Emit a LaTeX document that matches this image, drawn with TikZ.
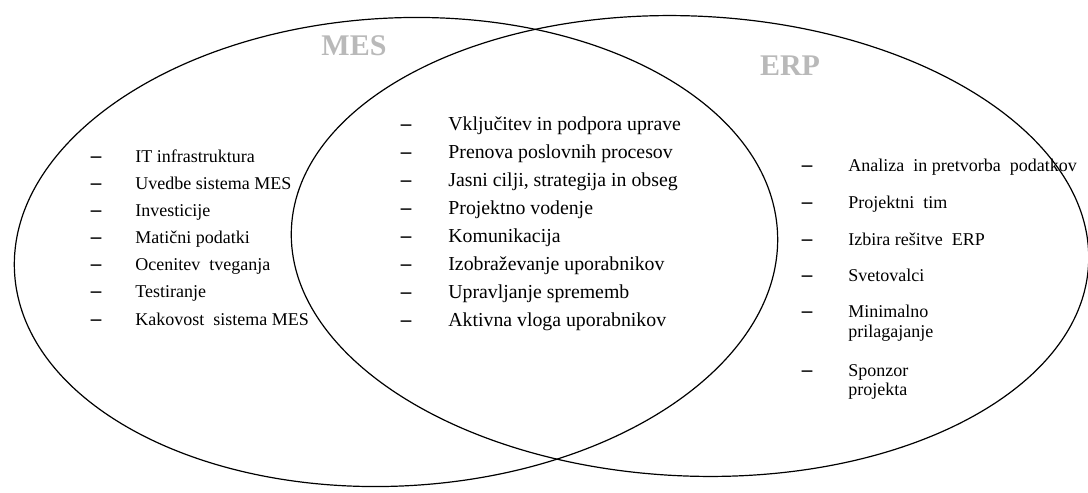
\documentclass[tikz,border=0pt]{standalone}
\usepackage{fontspec}
\setmainfont{Liberation Serif}
\definecolor{labelgray}{RGB}{185,185,185}
\tikzset{
  side/.style={anchor=base west,font=\fontsize{9}{10}\selectfont},
  core/.style={anchor=base west,font=\fontsize{9.9}{11}\selectfont},
  bullet/.style={anchor=base,font=\fontsize{10.5}{11}\selectfont\bfseries},
  setname/.style={font=\fontsize{15}{16}\selectfont\bfseries,text=labelgray}
}
\begin{document}
\begin{tikzpicture}[x=0.5pt,y=-0.5pt,every node/.style={inner sep=0pt}]
    \useasboundingbox (0,0) rectangle (1088,493);
    % sets
    \draw[line width=0.6pt,rotate around={3:(396,252)}] (396,252) ellipse [x radius=382, y radius=234];
    \draw[line width=0.6pt,rotate around={-2.5:(690,246)}] (690,246) ellipse [x radius=399, y radius=230];
    \node[setname] (mes) at (354,46) {MES};
    \node[setname] (erp) at (790,66) {ERP};
    % MES only
    \node[bullet] (m1d) at (96,162) {--}; \node[side] (m1) at (135,162) {IT infrastruktura};
    \node[bullet] (m2d) at (96,189) {--}; \node[side] (m2) at (135,189) {Uvedbe sistema MES};
    \node[bullet] (m3d) at (96,216) {--}; \node[side] (m3) at (135,216) {Investicije};
    \node[bullet] (m4d) at (96,243) {--}; \node[side] (m4) at (135,243) {Matični podatki};
    \node[bullet] (m5d) at (96,270) {--}; \node[side] (m5) at (135,270) {Ocenitev\ \ tveganja};
    \node[bullet] (m6d) at (96,297) {--}; \node[side] (m6) at (135,297) {Testiranje};
    \node[bullet] (m7d) at (96,325) {--}; \node[side] (m7) at (135,325) {Kakovost\ \ sistema MES};
    % common
    \node[bullet] (c1d) at (406,130) {--}; \node[core] (c1) at (448,130) {Vključitev in podpora uprave};
    \node[bullet] (c2d) at (406,158) {--}; \node[core] (c2) at (448,158) {Prenova poslovnih procesov};
    \node[bullet] (c3d) at (406,186) {--}; \node[core] (c3) at (448,186) {Jasni cilji, strategija in obseg};
    \node[bullet] (c4d) at (406,214) {--}; \node[core] (c4) at (448,214) {Projektno vodenje};
    \node[bullet] (c5d) at (406,242) {--}; \node[core] (c5) at (448,242) {Komunikacija};
    \node[bullet] (c6d) at (406,270) {--}; \node[core] (c6) at (448,270) {Izobraževanje uporabnikov};
    \node[bullet] (c7d) at (406,298) {--}; \node[core] (c7) at (448,298) {Upravljanje sprememb};
    \node[bullet] (c8d) at (406,326) {--}; \node[core] (c8) at (448,326) {Aktivna vloga uporabnikov};
    % ERP only
    \node[bullet] (e1d) at (807,171) {--}; \node[side] (e1) at (848,171) {Analiza\ \ in pretvorba\ \ podatkov};
    \node[bullet] (e2d) at (807,208) {--}; \node[side] (e2) at (848,208) {Projektni\ \ tim};
    \node[bullet] (e3d) at (807,245) {--}; \node[side] (e3) at (848,245) {Izbira rešitve\ \ ERP};
    \node[bullet] (e4d) at (807,281) {--}; \node[side] (e4) at (848,281) {Svetovalci};
    \node[bullet] (e5d) at (807,317) {--}; \node[side] (e5) at (848,317) {Minimalno};
    \node[side] (e5b) at (848,337) {prilagajanje};
    \node[bullet] (e6d) at (807,376) {--}; \node[side] (e6) at (848,376) {Sponzor};
    \node[side] (e6b) at (848,395) {projekta};
\end{tikzpicture}
\end{document}
